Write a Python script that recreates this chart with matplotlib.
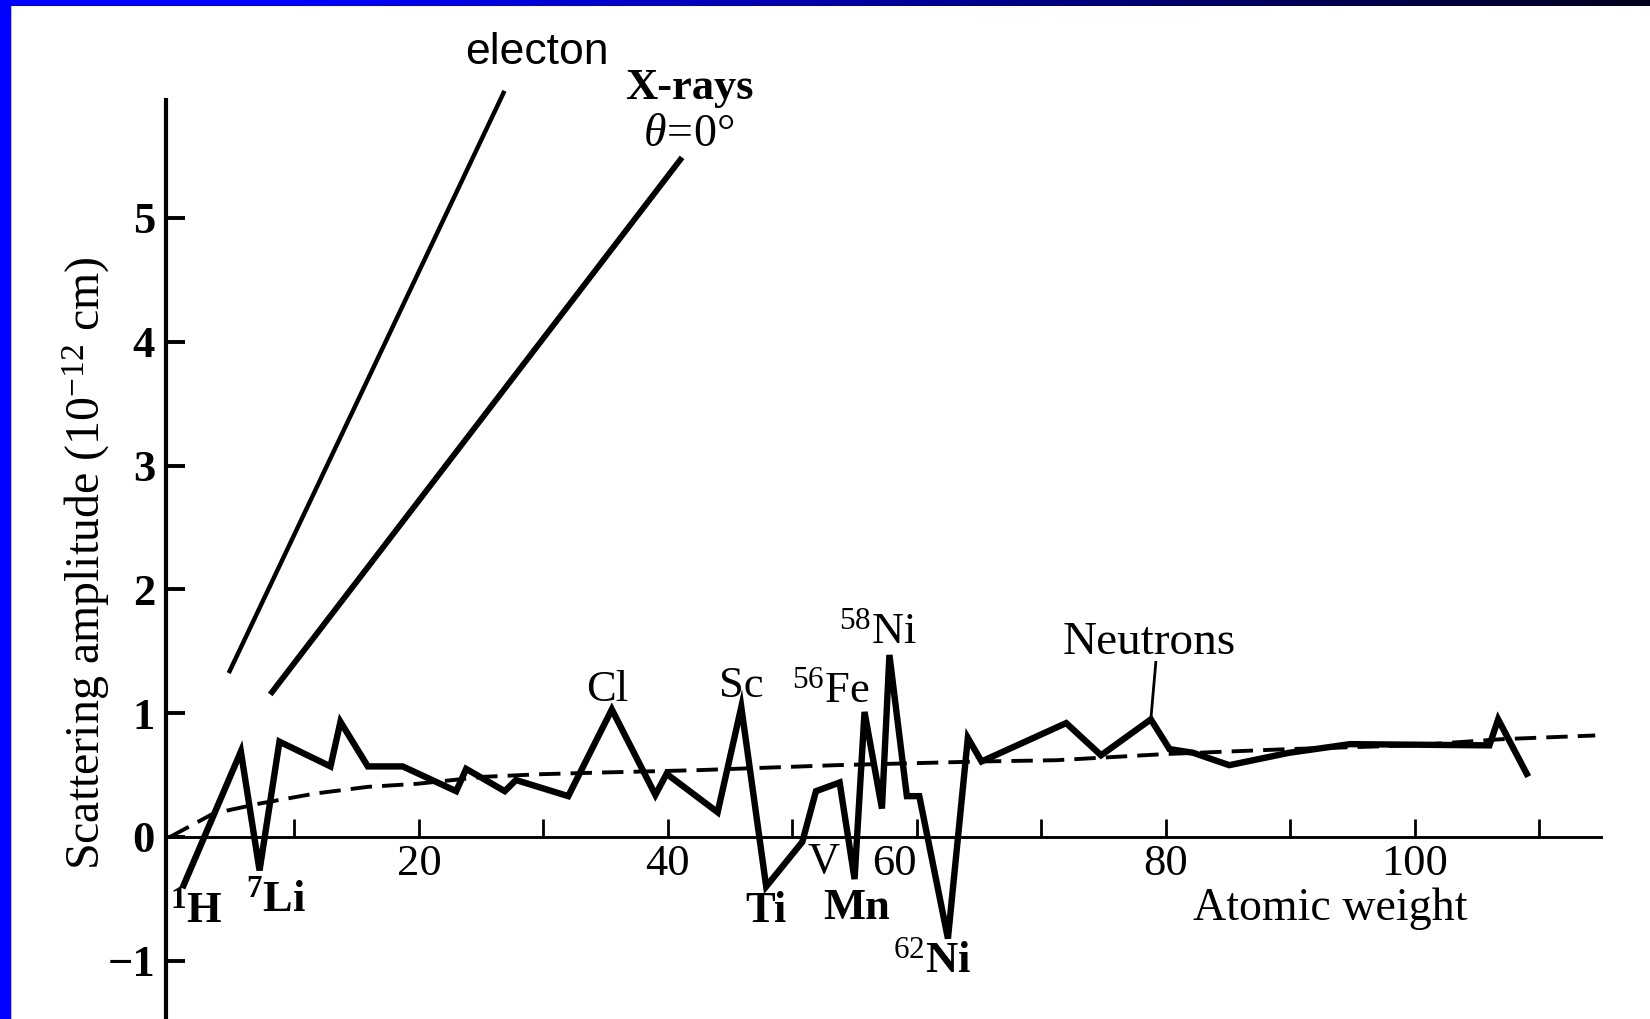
import numpy as np
import matplotlib
matplotlib.use('Agg')
from matplotlib import pyplot as plt
from matplotlib.patches import Rectangle
from matplotlib.transforms import ScaledTranslation

plt.rcParams['font.family'] = 'Liberation Serif'
plt.rcParams['mathtext.fontset'] = 'custom'
plt.rcParams['mathtext.rm'] = 'Liberation Serif'
plt.rcParams['mathtext.it'] = 'Liberation Serif:italic'
plt.rcParams['mathtext.bf'] = 'Liberation Serif:bold'

# neutron scattering amplitude vs atomic weight
neutron_x = [1.1, 5.7, 7.2, 8.8, 12.9, 13.7, 15.9, 18.7, 23.0, 23.8, 26.9, 27.8,
             32.0, 35.5, 39.0, 39.9, 44.0, 45.9, 47.9, 50.8, 51.9, 53.8, 55.0,
             55.8, 57.2, 57.8, 59.2, 60.2, 62.5, 64.1, 65.2, 72.0, 74.8, 78.8,
             80.3, 82.2, 85.1, 89.9, 94.8, 106.0, 106.7, 109.0]
neutron_y = [-0.39, 0.69, -0.27, 0.77, 0.57, 0.93, 0.57, 0.57, 0.37, 0.55, 0.37, 0.46,
             0.33, 1.03, 0.34, 0.51, 0.20, 1.05, -0.40, -0.04, 0.37, 0.44, -0.34,
             1.01, 0.23, 1.47, 0.33, 0.33, -0.82, 0.80, 0.61, 0.92, 0.66, 0.95,
             0.71, 0.68, 0.58, 0.68, 0.75, 0.74, 0.95, 0.51]

# smooth trend (dashed)
trend_x = [0, 3.5, 7.2, 11.6, 15.9, 19.9, 25.2, 29.8, 34.4, 42.5, 53.5, 65.2,
           71.2, 80, 89.9, 99.8, 107, 114.5]
trend_y = [0, 0.19, 0.27, 0.35, 0.405, 0.43, 0.486, 0.507, 0.52, 0.54, 0.58, 0.61,
           0.62, 0.67, 0.71, 0.74, 0.79, 0.82]

electron_x = [4.8, 26.8]
electron_y = [1.34, 6.01]
xray_x = [8.2, 41.0]
xray_y = [1.17, 5.47]

element_labels = [r'$\mathbf{^{1}}$H', r'$\mathbf{^{7}}$Li', 'Cl', 'Sc', r'$^{56}$Fe',
                  r'$^{58}$Ni', 'Ti', 'V', 'Mn', r'$^{62}$Ni']
element_x = [2.1, 8.5, 35.1, 45.9, 53.1, 56.9, 47.9, 52.5, 55.2, 61.2]
element_y = [-0.60, -0.51, 1.19, 1.22, 1.18, 1.65, -0.60, -0.20, -0.57, -1.00]
element_bold = [True, True, False, False, False, False, True, False, True, True]

x_ticks = [10, 20, 30, 40, 50, 60, 70, 80, 90, 100, 110]
x_ticklabels = ['', '20', '', '40', '', '60', '', '80', '', '100', '']
y_ticks = [-1, 0, 1, 2, 3, 4, 5]
y_ticklabels = ['\u22121', '0', '1', '2', '3', '4', '5']

fig = plt.figure(figsize=(16.5, 10.19), dpi=100)
ax = fig.add_axes([0, 0, 1, 1])
ax.set_xlim(-13.65, 118.9)
ax.set_ylim(-1.47, 6.76)
ax.patch.set_alpha(0)

for s in ['top', 'right']:
    ax.spines[s].set_visible(False)
ax.spines['left'].set_position(('data', -0.3))
ax.spines['left'].set_bounds(-1.6, 5.95)
ax.spines['left'].set_linewidth(3)
ax.spines['bottom'].set_position(('data', 0))
ax.spines['bottom'].set_bounds(-0.3, 115.0)
ax.spines['bottom'].set_linewidth(2.1)

ax.set_xticks(x_ticks)
ax.set_xticklabels(x_ticklabels)
ax.set_yticks(y_ticks)
ax.set_yticklabels(y_ticklabels, fontweight='bold')
ax.tick_params(axis='x', direction='in', length=13, width=2, pad=5, labelsize=32)
ax.tick_params(axis='y', direction='in', length=14, width=2.8, pad=8, labelsize=32)
# the "60" sits a bit left of its tick in the original
lab60 = ax.get_xticklabels()[5]
lab60.set_transform(lab60.get_transform() + ScaledTranslation(-0.22, 0, fig.dpi_scale_trans))

ax.plot(trend_x, trend_y, color='black', lw=2.8, dashes=(5.5, 2.6), zorder=2)
ax.plot(neutron_x, neutron_y, color='black', lw=4.6, solid_joinstyle='miter', zorder=3)
ax.plot(electron_x, electron_y, color='black', lw=3.2, zorder=3)
ax.plot(xray_x, xray_y, color='black', lw=4.2, zorder=3)
# pointer from the Neutrons label to the curve
ax.plot([78.8, 79.2], [0.95, 1.41], color='black', lw=2)

for lab, x, y, b in zip(element_labels, element_x, element_y, element_bold):
    ax.text(x, y, lab, fontsize=32, ha='center', va='center',
            fontweight='bold' if b else 'normal')

ax.text(78.7, 1.57, 'Neutrons', fontsize=34, ha='center', va='center')
ax.text(93.2, -0.58, 'Atomic weight', fontsize=33, ha='center', va='center')
ax.text(29.5, 6.34, 'electon', fontsize=32, ha='center', va='center',
        family='Liberation Sans')
ax.text(41.7, 6.05, 'X-rays', fontsize=32, ha='center', va='center', fontweight='bold')
ax.text(41.7, 5.67, r'$\mathit{\theta}\!=\!0\degree$', fontsize=33, ha='center', va='center')
ax.text(-6.7, 2.21, r'Scattering amplitude (10$^{-12}$ cm)', fontsize=34.5,
        rotation=90, ha='center', va='center')

# blue slide frame: left strip and gradient top bar
fig.patches.append(Rectangle((0, 0), 10 / 1650, 1, transform=fig.transFigure,
                             color='#0000ff', zorder=10))
bar = fig.add_axes([0, 1 - 6 / 1019, 1, 6 / 1019])
bar.axis('off')
blue = np.interp(np.arange(1650), [0, 300, 1650], [1.0, 1.0, 0.12])
grad = np.zeros((1, 1650, 3))
grad[0, :, 2] = blue
bar.imshow(grad, aspect='auto', interpolation='bilinear')

fig.savefig('out.png', dpi=100)
